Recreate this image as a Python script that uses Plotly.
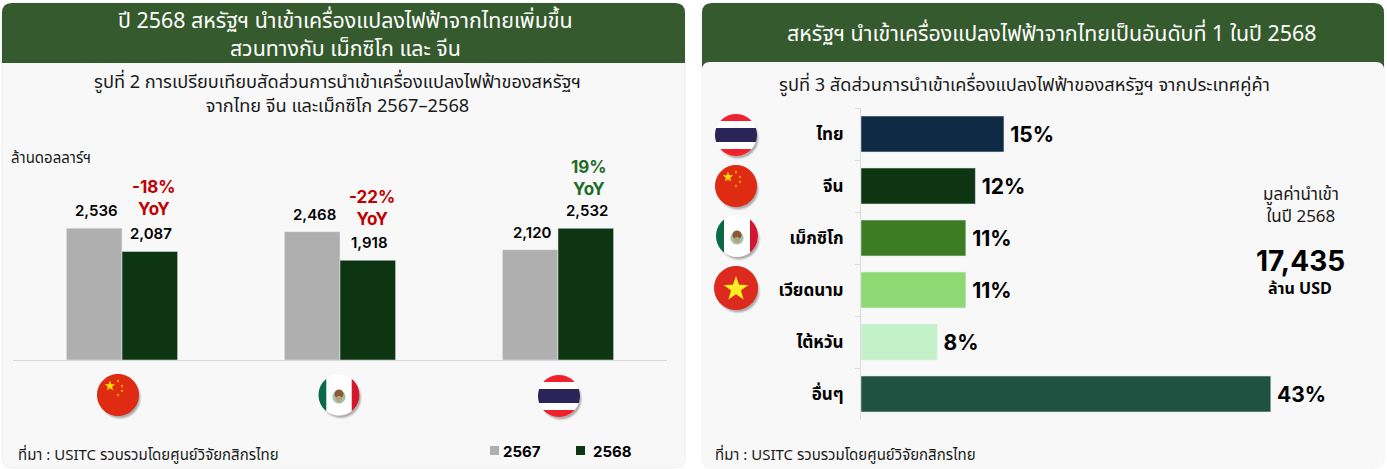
import numpy as np
import plotly.graph_objects as go

W, H = 1387, 469
FONT = "Noto Sans Thai, Inter, Noto Sans, sans-serif"
NUM_FONT = "Inter, Noto Sans Thai, sans-serif"

# figure 2: imports by country, 2567 vs 2568
countries = ["จีน", "เม็กซิโก", "ไทย"]
imports_2567 = [2536, 2468, 2120]
imports_2568 = [2087, 1918, 2532]
yoy_labels = ["-18%", "-22%", "19%"]

# figure 3: share by trade partner
partners = ["ไทย", "จีน", "เม็กซิโก", "เวียดนาม", "ไต้หวัน", "อื่นๆ"]
shares = [15, 12, 11, 11, 8, 43]
share_colors = ["#0f2a44", "#0d3512", "#3c7d24", "#8fd975", "#c4f2c8", "#205241"]


def px(x):
    return x / W


def py(y):
    return 1 - y / H


shapes = []
annotations = []


def add_poly(points, color, opacity=1):
    path = "M " + " L ".join(f"{px(x):.5f},{py(y):.5f}" for x, y in points) + " Z"
    shapes.append(dict(type="path", xref="paper", yref="paper", path=path,
                       fillcolor=color, line=dict(width=0), opacity=opacity, layer="above"))


def rounded(x0, y0, x1, y1, tl, tr, br, bl, color, border=None, layer="below"):
    p = [
        f"M {px(x0 + tl)},{py(y0)}", f"L {px(x1 - tr)},{py(y0)}",
        f"Q {px(x1)},{py(y0)} {px(x1)},{py(y0 + tr)}", f"L {px(x1)},{py(y1 - br)}",
        f"Q {px(x1)},{py(y1)} {px(x1 - br)},{py(y1)}", f"L {px(x0 + bl)},{py(y1)}",
        f"Q {px(x0)},{py(y1)} {px(x0)},{py(y1 - bl)}", f"L {px(x0)},{py(y0 + tl)}",
        f"Q {px(x0)},{py(y0)} {px(x0 + tl)},{py(y0)}", "Z",
    ]
    shapes.append(dict(type="path", xref="paper", yref="paper", path=" ".join(p), fillcolor=color,
                       line=dict(width=1 if border else 0, color=border or color), layer=layer))


def circle_pts(cx, cy, r, n=72):
    t = np.linspace(0, 2 * np.pi, n, endpoint=False)
    return list(zip(cx + r * np.cos(t), cy + r * np.sin(t)))


def hband(cx, cy, r, y0, y1):
    # horizontal slice of a circle, y0/y1 as offsets from the centre
    ys = np.linspace(y0, y1, 24)
    right = [(cx + np.sqrt(max(r * r - y * y, 0)), cy + y) for y in ys]
    left = [(cx - np.sqrt(max(r * r - y * y, 0)), cy + y) for y in ys[::-1]]
    return right + left


def vband(cx, cy, r, x0, x1):
    xs = np.linspace(x0, x1, 24)
    top = [(cx + x, cy - np.sqrt(max(r * r - x * x, 0))) for x in xs]
    bot = [(cx + x, cy + np.sqrt(max(r * r - x * x, 0))) for x in xs[::-1]]
    return top + bot


def star_pts(cx, cy, r):
    pts = []
    for i in range(10):
        a = -np.pi / 2 + i * np.pi / 5
        rr = r if i % 2 == 0 else r * 0.4
        pts.append((cx + rr * np.cos(a), cy + rr * np.sin(a)))
    return pts


def flag_shadow(cx, cy, r):
    for grow, op in [(0.5, 0.10), (-0.5, 0.18), (-1.5, 0.25)]:
        add_poly(circle_pts(cx + 2, cy + 3, r + grow), "#555555", op)


def flag_china(cx, cy, r=21):
    flag_shadow(cx, cy, r)
    add_poly(circle_pts(cx, cy, r), "#de2b12")
    add_poly(star_pts(cx - 8, cy - 9, 5.5), "#ffdd00")
    for dx, dy in [(0, -14), (4, -9), (4, -4), (0, 0)]:
        add_poly(star_pts(cx + dx, cy + dy, 1.7), "#ffc400")


def flag_thailand(cx, cy, r=21):
    flag_shadow(cx, cy, r)
    add_poly(circle_pts(cx, cy, r), "#ffffff")
    s = r / 3
    add_poly(hband(cx, cy, r, -r, -2 * s), "#f0202c")
    add_poly(hband(cx, cy, r, 2 * s, r), "#f0202c")
    add_poly(hband(cx, cy, r, -s, s), "#2b2458")


def flag_mexico(cx, cy, r=21):
    flag_shadow(cx, cy, r)
    add_poly(circle_pts(cx, cy, r), "#ffffff")
    s = r * 0.62
    add_poly(vband(cx, cy, r, -r, -s), "#0a6a47")
    add_poly(vband(cx, cy, r, s, r), "#d3172e")
    add_poly(circle_pts(cx, cy + 2, 6.5), "#8db592", 0.8)
    add_poly(circle_pts(cx, cy - 1, 4.5), "#8a5a34")
    add_poly(circle_pts(cx, cy + 4, 3), "#b9a27c")


def flag_vietnam(cx, cy, r=22):
    flag_shadow(cx, cy, r)
    add_poly(circle_pts(cx, cy, r), "#dd2a1e")
    add_poly(star_pts(cx, cy + 1, 13), "#ffee22")


def text(x, y, s, size=14, color="#1a1a1a", anchor="center", bold=False, family=FONT):
    if bold:
        s = f"<b>{s}</b>"
    annotations.append(dict(x=px(x), y=py(y), xref="paper", yref="paper", text=s, showarrow=False,
                            xanchor=anchor, yanchor="middle", align=anchor,
                            font=dict(size=size, color=color, family=family)))


# panels
rounded(2, 3, 685, 468, 10, 10, 10, 10, "#f8f8f8", "#eeeeee")
rounded(2, 3, 685, 63, 10, 10, 0, 0, "#355a2d")
rounded(702, 3, 1384, 468, 10, 10, 10, 10, "#f8f8f8", "#eeeeee")
rounded(702, 3, 1384, 82, 10, 10, 0, 0, "#355a2d")
rounded(702, 62, 1384, 468, 8, 8, 10, 10, "#f8f8f8")

# left panel text
text(345, 35, "ปี 2568 สหรัฐฯ นำเข้าเครื่องแปลงไฟฟ้าจากไทยเพิ่มขึ้น<br>สวนทางกับ เม็กซิโก และ จีน", 21.4, "#ffffff")
text(337, 94.5, "รูปที่ 2 การเปรียบเทียบสัดส่วนการนำเข้าเครื่องแปลงไฟฟ้าของสหรัฐฯ<br>จากไทย จีน และเม็กซิโก 2567–2568", 18.2)
text(9, 158, "ล้านดอลลาร์ฯ", 15, anchor="left")
text(16, 455, "ที่มา : USITC รวบรวมโดยศูนย์วิจัยกสิกรไทย", 15, anchor="left")

for xc, yc, lab, col in zip([154, 372, 589], [198, 208, 178], yoy_labels, ["#c00000", "#c00000", "#1e6b25"]):
    text(xc, yc, f"{lab}<br>YoY", 17, col, bold=True, family=NUM_FONT)

# legend of figure 2
for x0, col, lab in [(490, "#afafaf", "2567"), (576, "#0d3512", "2568")]:
    shapes.append(dict(type="rect", xref="paper", yref="paper", x0=px(x0), x1=px(x0 + 9), y0=py(455), y1=py(446),
                       fillcolor=col, line=dict(width=0)))
    text(x0 + (11 if lab == "2567" else 15), 451, lab, 15, "#000000", anchor="left", bold=True, family=NUM_FONT)

# right panel text
text(1052, 34, "สหรัฐฯ นำเข้าเครื่องแปลงไฟฟ้าจากไทยเป็นอันดับที่ 1 ในปี 2568", 21.4, "#ffffff")
text(1024, 86, "รูปที่ 3 สัดส่วนการนำเข้าเครื่องแปลงไฟฟ้าของสหรัฐฯ จากประเทศคู่ค้า", 18.2)
text(1301, 206, "มูลค่านำเข้า<br>ในปี 2568", 17)
text(1300, 261, "17,435", 28, "#000000", bold=True, family=NUM_FONT)
text(1300, 289, "ล้าน USD", 16, "#000000", bold=True)
text(713, 455, "ที่มา : USITC รวบรวมโดยศูนย์วิจัยกสิกรไทย", 15, anchor="left")

# flags
flag_china(118, 395)
flag_mexico(339, 395, 20.5)
flag_thailand(559, 396)
flag_thailand(736, 135)
flag_china(736, 186)
flag_mexico(737, 236)
flag_vietnam(736, 288)

# value labels sit a bit higher than bar text would, so they are annotations on the data axes
for series, xshift in [(imports_2567, -26), (imports_2568, 29)]:
    for country, value in zip(countries, series):
        annotations.append(dict(x=country, y=value, xref="x", yref="y", text=f"{value:,}", showarrow=False,
                                xanchor="center", yanchor="bottom", xshift=xshift, yshift=6,
                                font=dict(size=15, color="#000000", family=NUM_FONT, weight=600)))

fig = go.Figure()
# explicit width/offset: the two charts need different bar thickness but share bargap
fig.add_trace(go.Bar(x=countries, y=imports_2567, name="2567", marker_color="#afafaf",
                     width=0.255, offset=-0.255))
fig.add_trace(go.Bar(x=countries, y=imports_2568, name="2568", marker_color="#0d3512",
                     width=0.255, offset=0))
fig.add_trace(go.Bar(x=shares, y=partners, orientation="h", xaxis="x2", yaxis="y2", showlegend=False,
                     marker_color=share_colors, texttemplate="\u2009%{x}%", textposition="outside",
                     cliponaxis=False, textfont=dict(size=21, color="#000000", family=NUM_FONT, weight=700)))

fig.update_layout(
    width=W, height=H,
    margin=dict(l=0, r=0, t=0, b=0),
    paper_bgcolor="#ffffff",
    plot_bgcolor="rgba(0,0,0,0)",
    font=dict(family=FONT),
    showlegend=False,
    barmode="overlay",
    bargap=0.31,
    shapes=shapes,
    annotations=annotations,
    xaxis=dict(domain=[px(13), px(667)], showticklabels=False, ticks="", showgrid=False,
               showline=True, linecolor="#d9d9d9", linewidth=1),
    yaxis=dict(domain=[py(360), py(152)], range=[0, 4000], visible=False, showgrid=False),
    xaxis2=dict(domain=[px(861), px(1337.5)], range=[0, 50], visible=False, anchor="y2", showgrid=False),
    yaxis2=dict(domain=[py(420), py(108)], anchor="x2", autorange="reversed", showgrid=False,
                ticks="outside", ticklen=5, tickcolor="#dddddd", tickson="boundaries",
                ticklabelstandoff=13, showline=True, linecolor="#dddddd", zeroline=False,
                tickfont=dict(size=17, color="#000000", family=FONT, weight=700)),
)

fig.write_html("out.html", post_script="document.body.style.margin='0'",
               config=dict(displayModeBar=False))
